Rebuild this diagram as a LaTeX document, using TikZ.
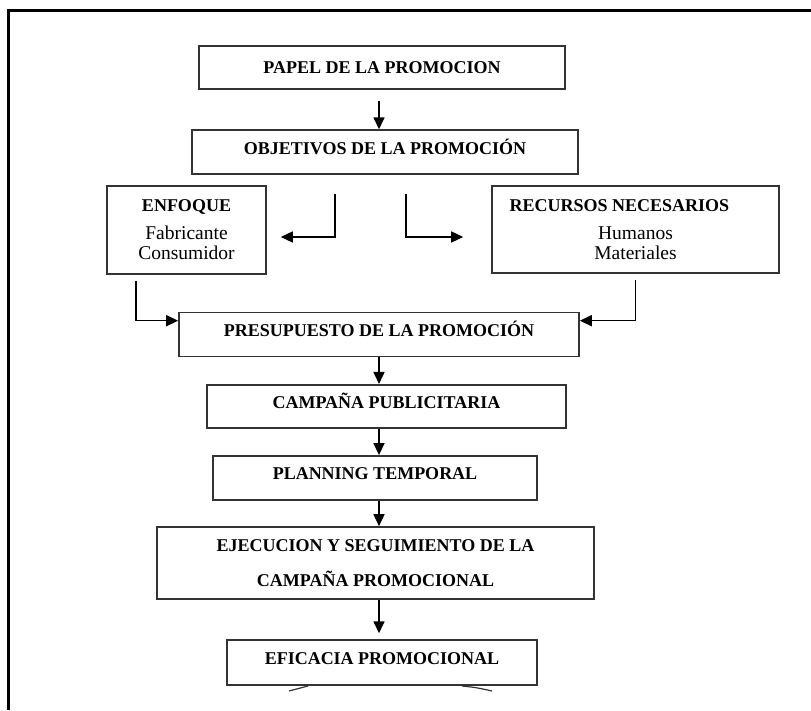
\documentclass[tikz,border=0pt]{standalone}
\usepackage{fontspec}
\setmainfont{Liberation Serif}
\usepackage{tikz}
\usetikzlibrary{arrows.meta,positioning,calc}

\begin{document}
\begin{tikzpicture}[
    x=1pt, y=1pt,
    box/.style={draw=black!80, line width=1.6pt, fill=white, inner sep=0pt, minimum height=#1, align=center, font=\fontsize{18}{20}\selectfont\bfseries},
    box/.default=44pt,
    one/.style={text height=13pt, text depth=9pt},
    arr/.style={-{Triangle[length=12pt,width=11pt]}, line width=1.5pt}
]
\useasboundingbox (0,0) rectangle (811,710);
% outer frame (only top and left edges visible)
\draw[line width=3pt] (811,699) -- (8.5,699) -- (8.5,0);

\coordinate (ax) at (379,0);

\node[box=43pt, minimum width=366pt] (papel) at (382,642.5) {PAPEL DE LA PROMOCION};
\node[box, one, minimum width=386pt, below=39.5pt of papel, xshift=3pt] (obj) {OBJETIVOS DE LA PROMOCIÓN};

\node[box=88pt, minimum width=159pt] (enf) at (186.5,480)
    {ENFOQUE\\[8pt]{\fontsize{19.5}{20}\selectfont\mdseries Fabricante}\\{\fontsize{19.5}{20}\selectfont\mdseries Consumidor}};
\node[box=87pt, minimum width=287pt] (rec) at (635.5,480.5)
    {RECURSOS NECESARIOS\hspace*{32pt}\\[8pt]{\fontsize{19.5}{20}\selectfont\mdseries Humanos}\\{\fontsize{19.5}{20}\selectfont\mdseries Materiales}};

\node[box, one, minimum width=400pt, below=137pt of obj, xshift=-6pt] (pres) {PRESUPUESTO DE LA PROMOCIÓN};
\node[box=43pt, one, minimum width=359pt, below=26.5pt of pres, xshift=7.5pt] (camp) {CAMPAÑA PUBLICITARIA};
\node[box, one, minimum width=324pt, below=26.5pt of camp, xshift=-11.5pt] (plan) {PLANNING TEMPORAL};
\node[box=72pt, minimum width=437pt, below=25.5pt of plan, xshift=0.5pt] (ejec)
    {EJECUCION Y SEGUIMIENTO DE LA\\[15pt]CAMPAÑA PROMOCIONAL};
\node[box=45pt, one, minimum width=310pt, below=39.5pt of ejec, xshift=6.5pt] (efic) {EFICACIA PROMOCIONAL};

% marks under the last box
\draw[line width=1.2pt, black!80] (289,19) .. controls (298,22) .. (308,24);
\draw[line width=1.2pt, black!80] (462,24) .. controls (476,22.5) .. (492,19);

\draw[arr, shorten <=11pt] (papel.south -| ax) -- (obj.north -| ax);
\draw[arr] ([xshift=-50pt,yshift=-19pt]obj.south) |- ([xshift=14pt,yshift=-7pt]enf.east);
\draw[arr] ([xshift=21pt,yshift=-19pt]obj.south) |- ([xshift=-28pt,yshift=-7.5pt]rec.west);
\draw[arr] ([xshift=-50.5pt,yshift=-6pt]enf.south) |- ([yshift=14pt]pres.west);
\draw[arr] ([yshift=-6pt]rec.south) |- ([yshift=14pt]pres.east);
\draw[arr] (pres.south -| ax) -- (camp.north -| ax);
\draw[arr] (camp.south -| ax) -- (plan.north -| ax);
\draw[arr] (plan.south -| ax) -- (ejec.north -| ax);
\draw[arr, shorten >=6pt] (ejec.south -| ax) -- (efic.north -| ax);
\end{tikzpicture}
\end{document}
